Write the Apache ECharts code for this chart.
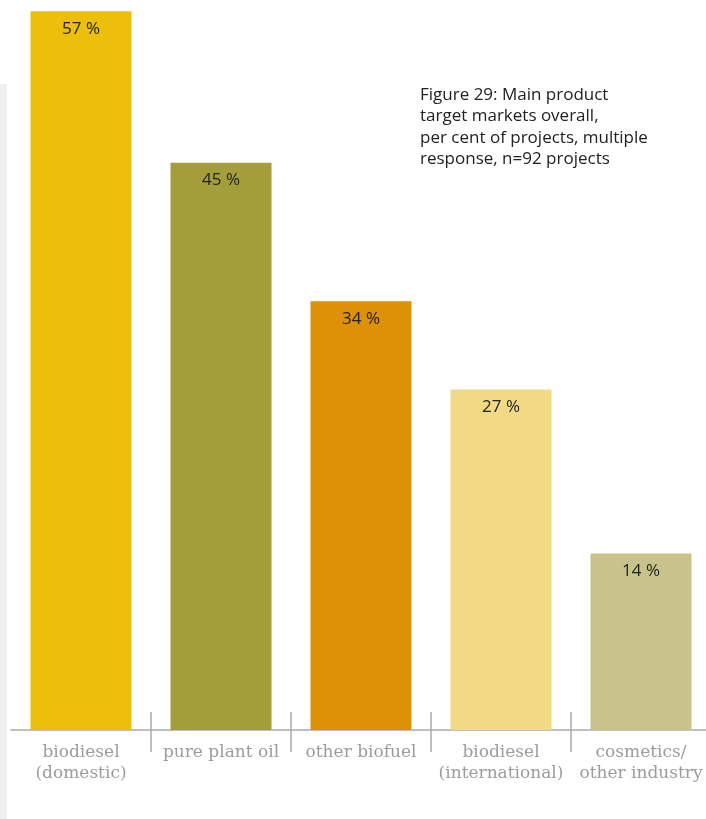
<!DOCTYPE html>
<html><head><meta charset="utf-8">
<script src="https://cdn.jsdelivr.net/npm/echarts@6/dist/echarts.min.js"></script>
<style>html,body{margin:0;padding:0;background:#fff}#c{width:706px;height:819px}</style>
</head><body><div id="c"></div>
<script>
const categories = ['biodiesel\n(domestic)', 'pure plant oil', 'other biofuel', 'biodiesel\n(international)', 'cosmetics/\nother industry'];
const values = [57, 45, 34, 27, 14];
const colors = ['#EBBF0A', '#A39E3A', '#DD9106', '#F2D983', '#C8C38A'];
const dividerPositions = [1, 2, 3, 4];
const titleLines = ['Figure 29: Main product', 'target markets overall,', 'per cent of projects, multiple', 'response, n=92 projects'];

const chart = echarts.init(document.getElementById('c'), null, {renderer: 'canvas'});
const gridLayout = {left: 11, width: 700, top: 0, bottom: 89, outerBoundsMode: 'none', containLabel: false};
chart.setOption({
  animation: false,
  graphic: [
    {type: 'rect', shape: {x: 0, y: 84, width: 7, height: 735}, style: {fill: '#efefee'}, silent: true},
    {type: 'text', left: 420, top: 84, style: {text: titleLines.join('\n'), font: '17px "Open Sans"', fill: '#222', lineHeight: 21.5}}
  ],
  grid: [gridLayout, gridLayout],
  xAxis: [
    {type: 'category', data: categories, gridIndex: 0,
     axisLine: {lineStyle: {color: '#aaaaaa', width: 1.5}},
     axisTick: {show: false},
     axisLabel: {color: '#9c9c9c', fontSize: 17, fontFamily: 'DejaVu Serif', lineHeight: 21, margin: 12, interval: 0}},
    {type: 'value', min: 0, max: 5, gridIndex: 1, offset: -18,
     axisLine: {show: false},
     axisTick: {show: true, customValues: dividerPositions, length: 40, lineStyle: {color: '#aaaaaa', width: 1.5}},
     axisLabel: {show: false}, splitLine: {show: false}}
  ],
  yAxis: [
    {type: 'value', min: 0, max: 57.9, gridIndex: 0, show: false, splitLine: {show: false}},
    {type: 'value', min: 0, max: 57.9, gridIndex: 1, show: false, splitLine: {show: false}}
  ],
  series: [{
    type: 'bar', xAxisIndex: 0, yAxisIndex: 0, barWidth: 101,
    data: values.map((v, i) => ({value: v, itemStyle: {color: colors[i]}})),
    label: {show: true, position: 'insideTop', distance: 9, formatter: '{c} %', color: '#222', fontSize: 17, fontFamily: 'Open Sans'}
  }]
});
</script></body></html>
